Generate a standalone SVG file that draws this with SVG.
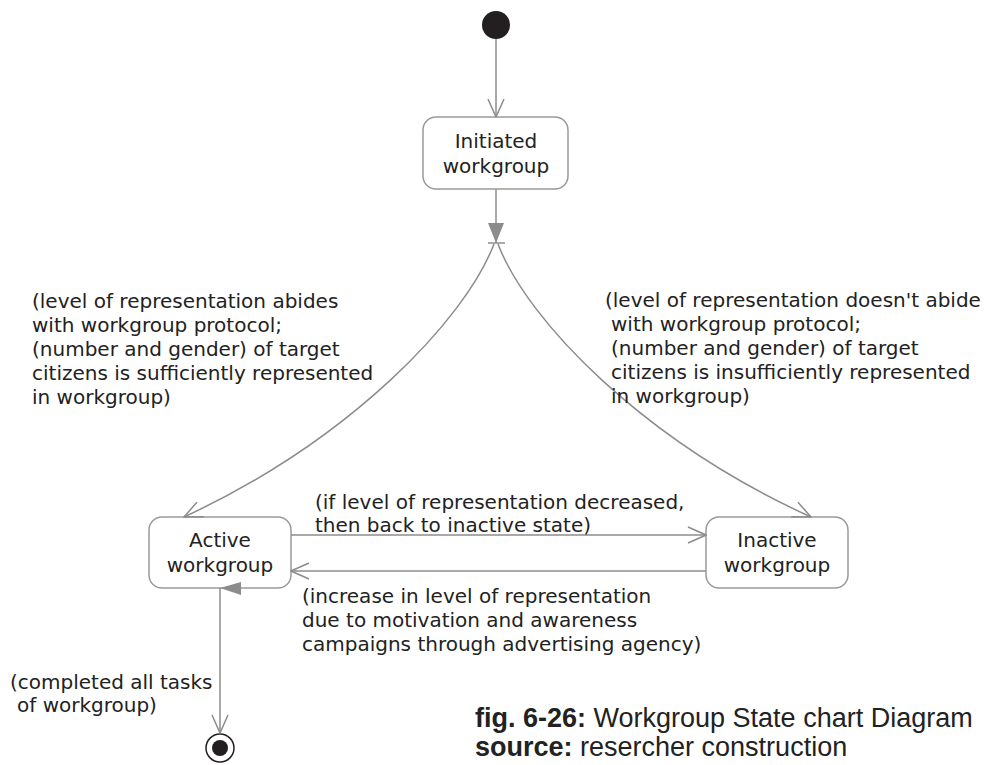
<svg xmlns="http://www.w3.org/2000/svg" width="987" height="765" viewBox="0 0 987 765">
  <style>
    .state { fill: #ffffff; stroke: #9a9a9a; stroke-width: 1.5; }
    .edge { fill: none; stroke: #8c8c8c; stroke-width: 1.5; }
    .lbl { font-family: "DejaVu Sans", Verdana, sans-serif; font-size: 20px; fill: #222222; }
    .name { font-family: "DejaVu Sans", Verdana, sans-serif; font-size: 20px; fill: #222222; text-anchor: middle; }
    .cap { font-family: "Liberation Sans", Arial, sans-serif; font-size: 27px; fill: #222222; }
  </style>
  <defs>
    <marker id="open" viewBox="0 0 20 20" refX="19" refY="10" markerWidth="20" markerHeight="20" markerUnits="userSpaceOnUse" orient="auto">
      <path d="M1,2 L19,10 L1,18" fill="none" stroke="#8c8c8c" stroke-width="1.5"/>
    </marker>
  </defs>

  <rect width="987" height="765" fill="#ffffff"/>

  <!-- states -->
  <g id="start">
    <circle cx="496" cy="25" r="14" fill="#231f20"/>
  </g>
  <g id="initiated">
    <rect class="state" x="423" y="117" width="145" height="72" rx="13"/>
    <text class="name" x="496" y="148">Initiated</text>
    <text class="name" x="496" y="173">workgroup</text>
  </g>
  <g id="active">
    <rect class="state" x="149" y="517" width="142" height="71" rx="13"/>
    <text class="name" x="220" y="547">Active</text>
    <text class="name" x="220" y="572">workgroup</text>
  </g>
  <g id="inactive">
    <rect class="state" x="706" y="517" width="142" height="71" rx="13"/>
    <text class="name" x="777" y="547">Inactive</text>
    <text class="name" x="777" y="572">workgroup</text>
  </g>
  <g id="final">
    <circle cx="220" cy="748" r="14" fill="#ffffff" stroke="#231f20" stroke-width="1.5"/>
    <circle cx="220" cy="748" r="8" fill="#231f20"/>
  </g>

  <!-- connectors -->
  <g id="connectors">
    <line class="edge" x1="496" y1="39" x2="496" y2="117" marker-end="url(#open)"/>
    <line class="edge" x1="496" y1="189" x2="496" y2="243"/>
    <polygon points="488,223 504,223 496,243" fill="#8c8c8c"/>
    <line x1="488" y1="243" x2="505" y2="243" stroke="#8c8c8c" stroke-width="1.5"/>
    <path class="edge" d="M494,244 C465,320 350,440 184,517" marker-end="url(#open)"/>
    <path class="edge" d="M498,244 C527,320 642,440 811,517" marker-end="url(#open)"/>
    <line class="edge" x1="291" y1="535" x2="706" y2="535" marker-end="url(#open)"/>
    <line class="edge" x1="706" y1="571" x2="291" y2="571" marker-end="url(#open)"/>
    <line class="edge" x1="220" y1="588" x2="220" y2="733" marker-end="url(#open)"/>
    <polygon points="220,588 241,582 241,595" fill="#8c8c8c"/>
  </g>

  <!-- transition labels -->
  <g id="labels">
    <text class="lbl" x="32" y="308">(level of representation abides</text>
    <text class="lbl" x="32" y="332">with workgroup protocol;</text>
    <text class="lbl" x="32" y="356">(number and gender) of target</text>
    <text class="lbl" x="32" y="380">citizens is sufficiently represented</text>
    <text class="lbl" x="32" y="404">in workgroup)</text>

    <text class="lbl" x="605" y="307">(level of representation doesn't abide</text>
    <text class="lbl" x="611" y="331">with workgroup protocol;</text>
    <text class="lbl" x="611" y="355">(number and gender) of target</text>
    <text class="lbl" x="611" y="379">citizens is insufficiently represented</text>
    <text class="lbl" x="611" y="403">in workgroup)</text>

    <text class="lbl" x="315" y="509">(if level of representation decreased,</text>
    <text class="lbl" x="315" y="532">then back to inactive state)</text>

    <text class="lbl" x="302" y="603">(increase in level of representation</text>
    <text class="lbl" x="302" y="627">due to motivation and awareness</text>
    <text class="lbl" x="302" y="651">campaigns through advertising agency)</text>

    <text class="lbl" x="10" y="689">(completed all tasks</text>
    <text class="lbl" x="17" y="712">of workgroup)</text>
  </g>

  <!-- caption -->
  <g id="caption">
    <text class="cap" x="475" y="727"><tspan font-weight="bold">fig. 6-26:</tspan> Workgroup State chart Diagram</text>
    <text class="cap" x="475" y="756"><tspan font-weight="bold">source:</tspan> resercher construction</text>
  </g>
</svg>
